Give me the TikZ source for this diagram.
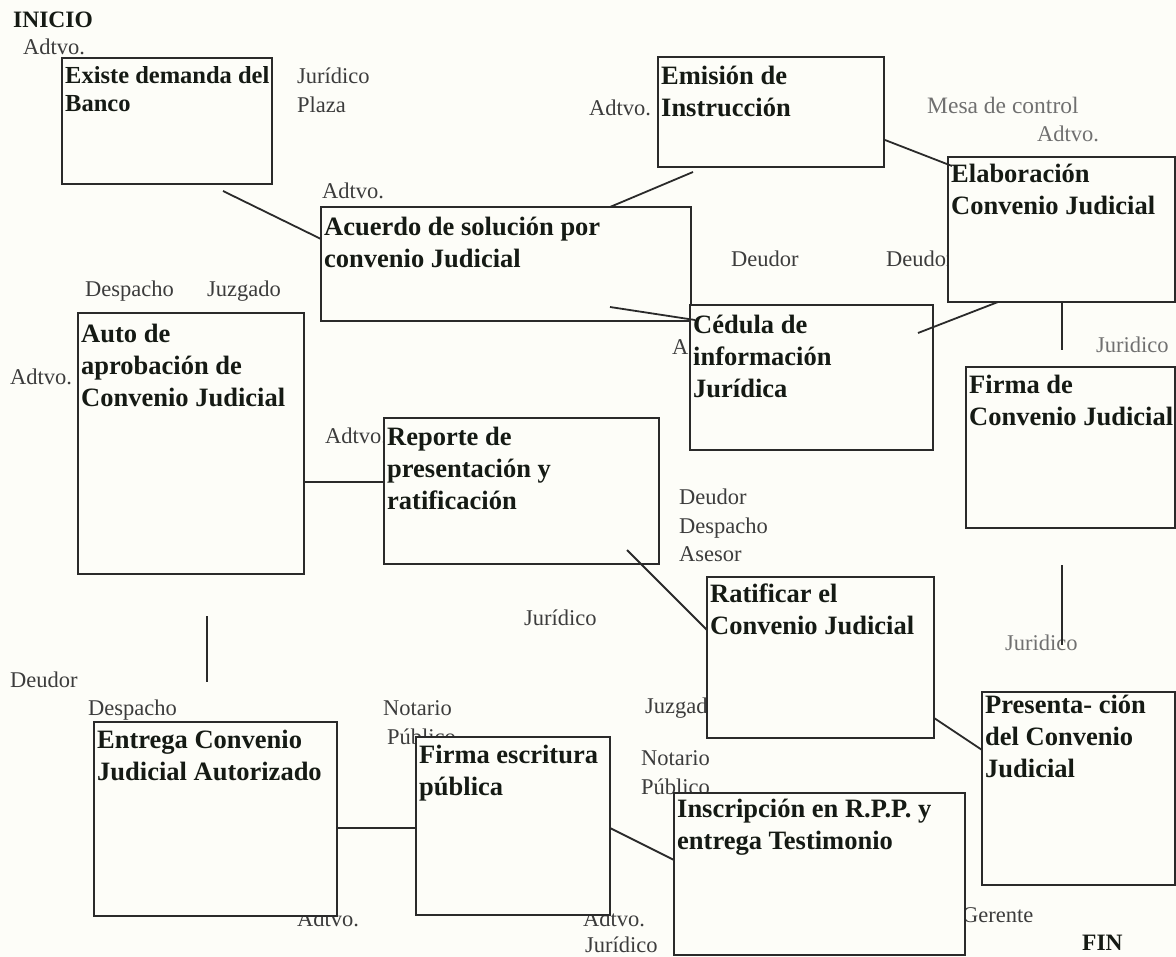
\documentclass[tikz,border=0pt]{standalone}
\usepackage{fontspec}
\setmainfont{Liberation Serif}
\usetikzlibrary{calc}

\definecolor{paper}{HTML}{FDFDF8}
\definecolor{ink}{HTML}{151A14}
\definecolor{lblgray}{HTML}{3C3C3C}
\definecolor{lblpale}{HTML}{707070}
\definecolor{rule}{HTML}{2A2A2A}

\tikzset{
  stepbox/.style={draw=rule, line width=1.5pt, fill=paper, rectangle,
    inner sep=0pt, outer sep=0pt, anchor=north west},
  steptext/.style={anchor=north west, inner sep=0pt, align=left, text=ink,
    font=\fontsize{26.5}{32}\selectfont\bfseries},
  lbl/.style={anchor=base west, inner sep=0pt, text=lblgray,
    font=\fontsize{22.5}{28.5}\selectfont},
  lblstack/.style={anchor=north west, inner sep=0pt, align=left, text=lblgray,
    font=\fontsize{22.5}{28.5}\selectfont},
  pale/.style={text=lblpale},
  endmark/.style={anchor=base west, inner sep=0pt, text=ink,
    font=\fontsize{23.5}{28}\selectfont\bfseries},
  link/.style={draw=rule, line width=1.8pt},
}

\begin{document}
\begin{tikzpicture}[x=1pt, y=-1pt]
  % page
  \fill[paper] (0,0) rectangle (1176,957);
  \useasboundingbox (0,0) rectangle (1176,957);

  % ---- role labels (drawn first, the boxes sit on top of them) ----
  \node[endmark] (inicio) at (13,28) {INICIO};
  \node[lbl] (l1) at (23,55) {Adtvo.};
  \node[lblstack] (l2) at (297,63.4) {\strut Jurídico\\Plaza};
  \node[lbl] (l3) at (322,199) {Adtvo.};
  \node[lbl] (l4) at (589,116) {Adtvo.};
  \node[lbl, pale, font=\fontsize{23.5}{28.5}\selectfont] (l5) at (927,114) {Mesa de control};
  \node[lbl, pale] (l6) at (1037,142) {Adtvo.};
  \node[lbl] (l7) at (731,267) {Deudor};
  \node[lbl] (l8) at (886,267) {Deudor};
  \node[lbl] (l9) at (672,355) {Adtvo.};
  \node[lbl, pale] (l10) at (1096,353) {Juridico};
  \node[lbl] (l11) at (85,297) {Despacho};
  \node[lbl] (l12) at (207,297) {Juzgado};
  \node[lbl] (l13) at (10,385) {Adtvo.};
  \node[lbl] (l14) at (325,444) {Adtvo.};
  \node[lblstack] (l15) at (679,484.4) {\strut Deudor\\Despacho\\Asesor};
  \node[lbl] (l16) at (524,625) {Jurídico};
  \node[lbl, pale] (l17) at (1005,650) {Juridico};
  \node[lbl] (l18) at (10,687) {Deudor};
  \node[lbl] (l19) at (88,715) {Despacho};
  \node[lblstack] (l20) at (383,695.4) {\strut Notario\\\hspace*{4pt}Público};
  \node[lbl] (l21) at (645,713) {Juzgado};
  \node[lblstack] (l22) at (641,745.4) {\strut Notario\\Público};
  \node[lbl] (l23) at (297,926) {Adtvo.};
  \node[lbl] (l24) at (583,926) {Adtvo.};
  \node[lbl] (l25) at (585,952) {Jurídico};
  \node[lbl] (l26) at (962,922) {Gerente};
  \node[endmark] (fin) at (1082,950) {FIN};

  % ---- process steps ----
  \node[stepbox, minimum width=210, minimum height=126] (A) at (62,58) {};
  \node[stepbox, minimum width=370, minimum height=114] (B) at (321,207) {};
  \node[stepbox, minimum width=226, minimum height=110] (C) at (658,57) {};
  \node[stepbox, minimum width=227, minimum height=145] (D) at (948,157) {};
  \node[stepbox, minimum width=243, minimum height=145] (E) at (690,305) {};
  \node[stepbox, minimum width=209, minimum height=161] (F) at (966,367) {};
  \node[stepbox, minimum width=226, minimum height=261] (G) at (78,313) {};
  \node[stepbox, minimum width=275, minimum height=146] (H) at (384,418) {};
  \node[stepbox, minimum width=227, minimum height=161] (I) at (707,577) {};
  \node[stepbox, minimum width=193, minimum height=193] (J) at (982,692) {};
  \node[stepbox, minimum width=243, minimum height=194] (K) at (94,722) {};
  \node[stepbox, minimum width=194, minimum height=178] (L) at (416,737) {};
  \node[stepbox, minimum width=291, minimum height=162] (M) at (674,793) {};

  % ---- step captions ----
  \node[steptext, font=\fontsize{24.5}{28}\selectfont\bfseries] (At)
    at ([shift={(3,5.4)}]A.north west) {\strut Existe demanda del\\Banco};
  \node[steptext] (Bt) at ([shift={(3,5.6)}]B.north west)
    {\strut Acuerdo de solución por\\convenio Judicial};
  \node[steptext] (Ct) at ([shift={(3,4.6)}]C.north west)
    {\strut Emisión de\\Instrucción};
  \node[steptext] (Dt) at ([shift={(3,2.6)}]D.north west)
    {\strut Elaboración\\Convenio Judicial};
  \node[steptext] (Et) at ([shift={(3,5.6)}]E.north west)
    {\strut Cédula de\\información\\Jurídica};
  \node[steptext] (Ft) at ([shift={(3,3.6)}]F.north west)
    {\strut Firma de\\Convenio Judicial};
  \node[steptext] (Gt) at ([shift={(3,6.6)}]G.north west)
    {\strut Auto de\\aprobación de\\Convenio Judicial};
  \node[steptext] (Ht) at ([shift={(3,4.6)}]H.north west)
    {\strut Reporte de\\presentación y\\ratificación};
  \node[steptext] (It) at ([shift={(3,2.6)}]I.north west)
    {\strut Ratificar el\\Convenio Judicial};
  \node[steptext] (Jt) at ([shift={(3,-1.4)}]J.north west)
    {\strut Presenta- ción\\del Convenio\\Judicial};
  \node[steptext] (Kt) at ([shift={(3,3.6)}]K.north west)
    {\strut Entrega Convenio\\Judicial Autorizado};
  \node[steptext] (Lt) at ([shift={(3,3.6)}]L.north west)
    {\strut Firma escritura\\pública};
  \node[steptext] (Mt) at ([shift={(3,1.6)}]M.north west)
    {\strut Inscripción en R.P.P. y\\entrega Testimonio};

  % ---- connectors ----
  \draw[link] ($(A.south west)+(161,7)$) -- ($(B.north west)+(0,32)$);
  \draw[link] ($(B.north west)+(289,0)$) -- ($(C.south west)+(35,5)$);
  \draw[link] ($(C.north east)+(1,83)$) -- ($(D.north west)+(4,9)$);
  \draw[link] ($(B.south west)+(289,-14)$) -- ($(E.north west)+(5,15)$);
  \draw[link] ($(E.north east)+(-15,28)$) -- ($(D.south west)+(50,0)$);
  \draw[link] ($(D.south west)+(114,0)$) -- ($(F.north west)+(96,-17)$);
  \draw[link] ($(F.south west)+(96,37)$) -- ($(J.north west)+(80,-47)$);
  \draw[link] ($(G.north east)+(0,169)$) -- ($(H.north west)+(0,64)$);
  \draw[link] ($(H.south east)+(-32,-14)$) -- ($(I.north west)+(0,53)$);
  \draw[link] ($(I.south east)+(0,-20)$) -- ($(J.north west)+(0,58)$);
  \draw[link] ($(G.south west)+(129,42)$) -- ($(K.north west)+(113,-40)$);
  \draw[link] ($(K.north east)+(0,106)$) -- ($(L.north west)+(0,91)$);
  \draw[link] ($(L.north east)+(0,91)$) -- ($(M.north west)+(0,67)$);
\end{tikzpicture}
\end{document}
